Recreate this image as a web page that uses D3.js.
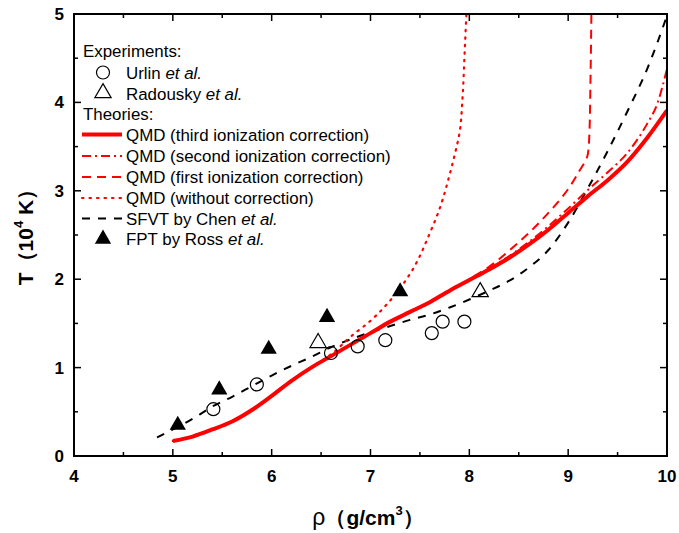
<!DOCTYPE html>
<html><head><meta charset="utf-8">
<script src="https://cdn.jsdelivr.net/npm/d3@7"></script>
<style>body{margin:0;background:#fff}svg{display:block}</style>
</head><body>
<svg id="c" width="679" height="533"></svg>
<script>
// ---- data ----
const urlinRho = [5.41, 5.85, 6.60, 6.87, 7.15, 7.62, 7.73, 7.95];
const urlinT   = [0.53, 0.81, 1.165, 1.24, 1.31, 1.39, 1.52, 1.52];
const radRho = [6.47, 8.11];
const radT   = [1.28, 1.855];
const rossRho = [5.05, 5.47, 5.97, 6.56, 7.30];
const rossT   = [0.35, 0.75, 1.21, 1.57, 1.86];

const thirdRho = [5.0, 5.2, 5.4, 5.6, 5.8, 6.0, 6.2, 6.4, 6.6, 6.8, 7.0, 7.2, 7.4, 7.6, 7.8, 8.0, 8.2, 8.4, 8.6, 8.8, 9.0, 9.2, 9.4, 9.6, 9.8, 10.0];
const thirdT   = [0.17, 0.22, 0.30, 0.39, 0.52, 0.68, 0.85, 1.00, 1.13, 1.26, 1.39, 1.52, 1.63, 1.74, 1.87, 1.99, 2.11, 2.24, 2.39, 2.56, 2.75, 2.94, 3.12, 3.33, 3.60, 3.91];

const secondRho = [5.0, 5.2, 5.4, 5.6, 5.8, 6.0, 6.2, 6.4, 6.6, 6.8, 7.0, 7.2, 7.4, 7.6, 7.8, 8.0, 8.2, 8.4, 8.6, 8.8, 9.0, 9.2, 9.4, 9.6, 9.8, 9.9, 10.0];
const secondT   = [0.17, 0.22, 0.30, 0.39, 0.52, 0.68, 0.85, 1.00, 1.13, 1.26, 1.39, 1.52, 1.63, 1.74, 1.87, 1.99, 2.12, 2.26, 2.42, 2.60, 2.80, 3.01, 3.21, 3.43, 3.76, 3.98, 4.38];

const firstRho = [5.0, 5.2, 5.4, 5.6, 5.8, 6.0, 6.2, 6.4, 6.6, 6.8, 7.0, 7.2, 7.4, 7.6, 7.8, 8.0, 8.2, 8.4, 8.6, 8.8, 9.0, 9.1, 9.2, 9.215, 9.225, 9.235];
const firstT   = [0.17, 0.22, 0.30, 0.39, 0.52, 0.68, 0.85, 1.00, 1.13, 1.26, 1.39, 1.52, 1.63, 1.74, 1.87, 2.00, 2.14, 2.32, 2.52, 2.75, 3.02, 3.20, 3.42, 3.65, 4.2, 5.0];

const noCorrRho = [5.0, 5.2, 5.4, 5.6, 5.8, 6.0, 6.2, 6.4, 6.6, 6.8, 7.0, 7.2, 7.4, 7.6, 7.7, 7.8, 7.85, 7.9, 7.93, 7.95, 7.97];
const noCorrT   = [0.17, 0.22, 0.30, 0.39, 0.52, 0.68, 0.85, 1.00, 1.15, 1.35, 1.53, 1.76, 2.06, 2.52, 2.80, 3.18, 3.40, 3.65, 4.03, 4.50, 5.0];

const sfvtRho = [4.84, 5.0, 5.2, 5.4, 5.6, 5.8, 6.0, 6.2, 6.4, 6.6, 6.8, 7.0, 7.2, 7.4, 7.6, 7.8, 8.0, 8.2, 8.4, 8.6, 8.8, 9.0, 9.2, 9.4, 9.6, 9.8, 10.0];
const sfvtT   = [0.21, 0.30, 0.42, 0.56, 0.67, 0.79, 0.91, 1.02, 1.12, 1.23, 1.32, 1.40, 1.47, 1.54, 1.60, 1.68, 1.77, 1.87, 1.98, 2.13, 2.33, 2.64, 3.03, 3.45, 3.90, 4.38, 4.98];

const xTicks = [4, 5, 6, 7, 8, 9, 10];
const yTicks = [0, 1, 2, 3, 4, 5];

// ---- chart ----
const svg = d3.select("#c");
const L = 74, R = 667, T0 = 14, B = 456;
const x = d3.scaleLinear().domain([4, 10]).range([L, R]);
const y = d3.scaleLinear().domain([0, 5]).range([B, T0]);
const zip = (a, b) => a.map((v, i) => [v, b[i]]);

svg.append("defs").append("clipPath").attr("id", "clip")
  .append("rect").attr("x", L).attr("y", T0).attr("width", R - L).attr("height", B - T0);

const line = d3.line().x(d => x(d[0])).y(d => y(d[1])).curve(d3.curveMonotoneX);
const lineV = d3.line().x(d => x(d[0])).y(d => y(d[1])).curve(d3.curveMonotoneY);
const g = svg.append("g").attr("clip-path", "url(#clip)");

const styles = {
  third:  {stroke: "#ff0000", w: 4, dash: null},
  second: {stroke: "#ff0000", w: 2, dash: "9 4 2 4"},
  first:  {stroke: "#ff0000", w: 2, dash: "9 6"},
  noCorr: {stroke: "#ff0000", w: 2.2, dash: "1.5 6"},
  sfvt:   {stroke: "#000000", w: 2, dash: "8 8"}
};
function drawLine(data, st, gen) {
  g.append("path").datum(data).attr("d", gen || line).attr("fill", "none")
    .attr("stroke", st.stroke).attr("stroke-width", st.w)
    .attr("stroke-dasharray", st.dash).attr("stroke-linecap", st.dash && st.dash.startsWith("1.5") ? "round" : "butt");
}
drawLine(zip(sfvtRho, sfvtT), styles.sfvt);
drawLine(zip(noCorrRho, noCorrT), styles.noCorr, lineV);
drawLine(zip(firstRho, firstT), styles.first, lineV);
drawLine(zip(secondRho, secondT), styles.second);
drawLine(zip(thirdRho, thirdT), styles.third);

const tri = d3.symbol().type(d3.symbolTriangle).size(115);
g.selectAll(".ross").data(zip(rossRho, rossT)).join("path")
  .attr("d", tri).attr("transform", d => `translate(${x(d[0])},${y(d[1])})`).attr("fill", "#000");
g.selectAll(".rad").data(zip(radRho, radT)).join("path")
  .attr("d", tri).attr("transform", d => `translate(${x(d[0])},${y(d[1])})`)
  .attr("fill", "none").attr("stroke", "#000").attr("stroke-width", 1.2);
g.selectAll(".urlin").data(zip(urlinRho, urlinT)).join("circle")
  .attr("cx", d => x(d[0])).attr("cy", d => y(d[1])).attr("r", 6.5)
  .attr("fill", "none").attr("stroke", "#000").attr("stroke-width", 1.2);

// ---- axes ----
const ax = svg.append("g").attr("stroke", "#000");
ax.append("rect").attr("x", L).attr("y", T0).attr("width", R - L).attr("height", B - T0)
  .attr("fill", "none").attr("stroke-width", 2);
const xMinor = d3.range(4.5, 10, 1);
const yMinor = d3.range(0.5, 5, 1);
const maj = 7, mn = 4;
xTicks.forEach(v => {
  ax.append("line").attr("x1", x(v)).attr("x2", x(v)).attr("y1", B).attr("y2", B - maj).attr("stroke-width", 1.5);
  ax.append("line").attr("x1", x(v)).attr("x2", x(v)).attr("y1", T0).attr("y2", T0 + maj).attr("stroke-width", 1.5);
});
xMinor.forEach(v => {
  ax.append("line").attr("x1", x(v)).attr("x2", x(v)).attr("y1", B).attr("y2", B - mn).attr("stroke-width", 1.5);
  ax.append("line").attr("x1", x(v)).attr("x2", x(v)).attr("y1", T0).attr("y2", T0 + mn).attr("stroke-width", 1.5);
});
yTicks.forEach(v => {
  ax.append("line").attr("y1", y(v)).attr("y2", y(v)).attr("x1", L).attr("x2", L + maj).attr("stroke-width", 1.5);
  ax.append("line").attr("y1", y(v)).attr("y2", y(v)).attr("x1", R).attr("x2", R - maj).attr("stroke-width", 1.5);
});
yMinor.forEach(v => {
  ax.append("line").attr("y1", y(v)).attr("y2", y(v)).attr("x1", L).attr("x2", L + mn).attr("stroke-width", 1.5);
  ax.append("line").attr("y1", y(v)).attr("y2", y(v)).attr("x1", R).attr("x2", R - mn).attr("stroke-width", 1.5);
});
const font = "Liberation Sans, Arial, sans-serif";
svg.selectAll(".xl").data(xTicks).join("text").attr("x", d => x(d)).attr("y", B + 26)
  .attr("text-anchor", "middle").attr("font-family", font).attr("font-weight", "bold").attr("font-size", 17).text(d => d);
svg.selectAll(".yl").data(yTicks).join("text").attr("x", L - 10).attr("y", d => y(d) + 6)
  .attr("text-anchor", "end").attr("font-family", font).attr("font-weight", "bold").attr("font-size", 17).text(d => d);

// axis titles
const xt = svg.append("text").attr("x", 368).attr("y", 525).attr("text-anchor", "middle")
  .attr("font-family", font).attr("font-size", 21);
xt.append("tspan").attr("font-size", 23).text("ρ");
xt.append("tspan").attr("font-weight", "bold").text("（g/cm");
xt.append("tspan").attr("font-weight", "bold").attr("font-size", 13).attr("dy", -10).text("3");
xt.append("tspan").attr("font-weight", "bold").attr("dy", 10).text("）");

const yt = svg.append("text").attr("transform", "translate(33,232) rotate(-90)").attr("text-anchor", "middle")
  .attr("font-family", font).attr("font-size", 21).attr("font-weight", "bold");
yt.append("tspan").text("T（10");
yt.append("tspan").attr("font-size", 13).attr("dy", -10).text("4");
yt.append("tspan").attr("dy", 10).text(" K）");

// ---- legend ----
const lg = svg.append("g").attr("font-family", font).attr("font-size", 16.9);
const tx = 126, lx1 = 82, lx2 = 122, mx = 103;
lg.append("text").attr("x", 83).attr("y", 57).text("Experiments:");
lg.append("circle").attr("cx", mx).attr("cy", 72.5).attr("r", 6.5).attr("fill", "none").attr("stroke", "#000").attr("stroke-width", 1.2);
let t1 = lg.append("text").attr("x", tx).attr("y", 78.5); t1.append("tspan").text("Urlin "); t1.append("tspan").attr("font-style", "italic").text("et al.");
lg.append("path").attr("d", tri).attr("transform", `translate(${mx},93)`).attr("fill", "none").attr("stroke", "#000").attr("stroke-width", 1.2);
let t2 = lg.append("text").attr("x", tx).attr("y", 99.5); t2.append("tspan").text("Radousky "); t2.append("tspan").attr("font-style", "italic").text("et al.");
lg.append("text").attr("x", 83).attr("y", 120).text("Theories:");
const legLines = [
  {st: styles.third,  y: 134.5, label: "QMD (third ionization correction)"},
  {st: styles.second, y: 156,   label: "QMD (second ionization correction)"},
  {st: styles.first,  y: 177,   label: "QMD (first ionization correction)"},
  {st: styles.noCorr, y: 198,   label: "QMD (without correction)"},
  {st: styles.sfvt,   y: 218.5, label: "SFVT by Chen ", it: "et al."}
];
legLines.forEach(d => {
  lg.append("line").attr("x1", lx1).attr("x2", lx2).attr("y1", d.y).attr("y2", d.y)
    .attr("stroke", d.st.stroke).attr("stroke-width", d.st.w).attr("stroke-dasharray", d.st.dash)
    .attr("stroke-linecap", d.st.dash && d.st.dash.startsWith("1.5") ? "round" : "butt");
  const t = lg.append("text").attr("x", tx).attr("y", d.y + 6);
  t.append("tspan").text(d.label);
  if (d.it) t.append("tspan").attr("font-style", "italic").text(d.it);
});
lg.append("path").attr("d", tri).attr("transform", `translate(${mx},239)`).attr("fill", "#000");
let t3 = lg.append("text").attr("x", tx).attr("y", 245); t3.append("tspan").text("FPT by Ross "); t3.append("tspan").attr("font-style", "italic").text("et al.");
</script>
</body></html>
